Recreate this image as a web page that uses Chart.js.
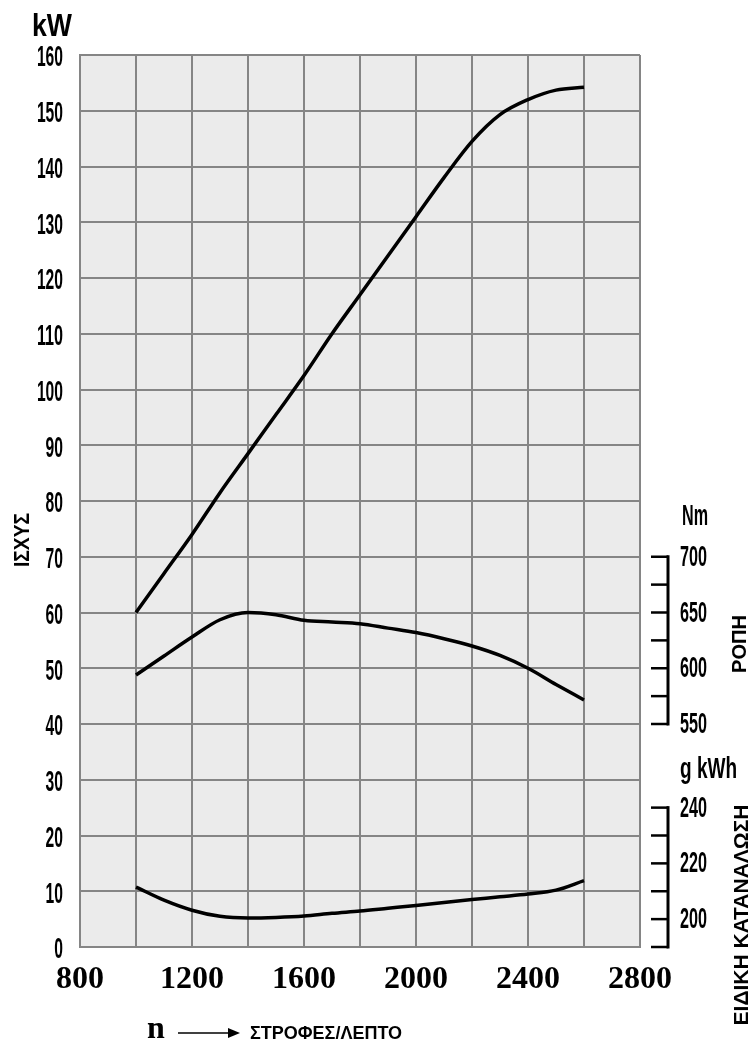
<!DOCTYPE html>
<html lang="el">
<head>
    <meta charset="UTF-8">
    <title>Καμπύλες κινητήρα</title>
    <script src="https://cdn.jsdelivr.net/npm/chart.js"></script>
    <style>
        html, body {
            margin: 0;
            padding: 0;
            background: #fff;
        }
        .grafico {
            position: relative;
            width: 753px;
            height: 1052px;
        }
    </style>
</head>
<body>
    <div class="grafico">
        <canvas id="motorChart"></canvas>
    </div>

    <script>
        // Δεδομένα διαβασμένα από το διάγραμμα
        const strofes = [1000, 1100, 1200, 1300, 1400, 1500, 1600, 1700, 1800, 1900, 2000, 2100, 2200, 2300, 2400, 2500, 2600];
        const isxys = [60, 67, 74, 81.5, 88.5, 95.5, 102.5, 110, 117, 124, 131, 138, 144.5, 149.3, 152, 153.7, 154.2];
        const ropi = [594, 611, 628, 643.5, 650, 648, 643, 641.5, 640, 636, 632, 626.5, 620, 611.5, 600, 585.5, 571.5];
        const katanalosi = [211.5, 206.8, 203.2, 201, 200.4, 200.6, 201.1, 202.1, 202.9, 203.9, 204.9, 206, 207, 208, 209, 210.4, 213.8];

        const strofesEtiketes = [800, 1200, 1600, 2000, 2400, 2800];
        const ropiGrammes = [550, 575, 600, 625, 650, 675, 700];
        const ropiEtiketes = [550, 600, 650, 700];
        const katanalosiGrammes = [190, 200, 210, 220, 230, 240];
        const katanalosiEtiketes = [200, 220, 240];

        const sans = "'Liberation Sans', Arial, sans-serif";
        const gkrizo = '#858585';

        // φόντο περιοχής γραφήματος
        const fontoPlugin = {
            id: 'fonto',
            beforeDraw(chart) {
                const a = chart.chartArea;
                chart.ctx.save();
                chart.ctx.fillStyle = '#ebebeb';
                chart.ctx.fillRect(a.left, a.top, a.right - a.left, a.bottom - a.top);
                chart.ctx.restore();
            }
        };

        // στενά, ψηλά νούμερα όπως στο πρωτότυπο (συμπίεση με maxWidth)
        function stenoKeimeno(ctx, text, x, y, size, perChar) {
            ctx.font = 'bold ' + size + 'px ' + sans;
            ctx.fillText(text, x, y, perChar * text.length);
        }

        function agkyli(ctx, scale, grammes, etiketes, xL) {
            const yTop = scale.getPixelForValue(grammes[grammes.length - 1]);
            const yBot = scale.getPixelForValue(grammes[0]);
            ctx.strokeStyle = '#000';
            ctx.lineWidth = 3;
            ctx.beginPath();
            ctx.moveTo(xL, yTop - 1.5);
            ctx.lineTo(xL, yBot + 1.5);
            ctx.stroke();
            ctx.lineWidth = 2.5;
            grammes.forEach(v => {
                const y = scale.getPixelForValue(v);
                ctx.beginPath();
                ctx.moveTo(xL - 17, y);
                ctx.lineTo(xL, y);
                ctx.stroke();
            });
            ctx.fillStyle = '#000';
            ctx.textAlign = 'left';
            ctx.textBaseline = 'middle';
            etiketes.forEach(v => {
                stenoKeimeno(ctx, String(v), xL + 12, scale.getPixelForValue(v) + 1, 29, 9);
            });
        }

        function keimenoPeristrofi(ctx, text, x, y, font, maxW) {
            ctx.save();
            ctx.translate(x, y);
            ctx.rotate(-Math.PI / 2);
            ctx.font = font;
            ctx.textAlign = 'center';
            ctx.textBaseline = 'middle';
            ctx.fillText(text, 0, 0, maxW);
            ctx.restore();
        }

        // ετικέτες αριστερού άξονα, δεξιοί άξονες, τίτλοι και βέλος στροφών
        const keimenaPlugin = {
            id: 'keimena',
            afterDraw(chart) {
                const ctx = chart.ctx;
                const a = chart.chartArea;
                const yScale = chart.scales.y;
                const xL = a.right + 28;
                ctx.save();
                ctx.fillStyle = '#000';

                ctx.textAlign = 'right';
                ctx.textBaseline = 'middle';
                yScale.ticks.forEach(t => {
                    stenoKeimeno(ctx, String(t.value), a.left - 17, yScale.getPixelForValue(t.value) + 3, 30, 8.7);
                });

                agkyli(ctx, chart.scales.yNm, ropiGrammes, ropiEtiketes, xL);
                agkyli(ctx, chart.scales.yG, katanalosiGrammes, katanalosiEtiketes, xL);

                ctx.textAlign = 'left';
                ctx.font = 'bold 30px ' + sans;
                ctx.fillText('Nm', xL + 14, chart.scales.yNm.getPixelForValue(700) - 40, 26);
                ctx.fillText('g kWh', xL + 12, chart.scales.yG.getPixelForValue(240) - 38, 57);

                ctx.font = 'bold 32px ' + sans;
                ctx.fillText('kW', a.left - 48, a.top - 28, 40);

                keimenoPeristrofi(ctx, 'ΙΣΧΥΣ', 23, 540, 'bold 22px ' + sans, 54);
                keimenoPeristrofi(ctx, 'ΡΟΠΗ', 740, 644, 'bold 21px ' + sans, 58);
                keimenoPeristrofi(ctx, 'ΕΙΔΙΚΗ ΚΑΤΑΝΑΛΩΣΗ', 742, 915, 'bold 21px ' + sans, 260);

                // n ---> ΣΤΡΟΦΕΣ/ΛΕΠΤΟ
                ctx.textAlign = 'center';
                ctx.font = 'bold 32px "Liberation Serif", serif';
                ctx.fillText('n', 156, 1030);
                ctx.strokeStyle = '#000';
                ctx.lineWidth = 1.5;
                ctx.beginPath();
                ctx.moveTo(178, 1033);
                ctx.lineTo(232, 1033);
                ctx.stroke();
                ctx.beginPath();
                ctx.moveTo(240, 1033);
                ctx.lineTo(228, 1028);
                ctx.lineTo(228, 1038);
                ctx.closePath();
                ctx.fill();
                ctx.textAlign = 'left';
                ctx.font = 'bold 18px ' + sans;
                ctx.fillText('ΣΤΡΟΦΕΣ/ΛΕΠΤΟ', 250, 1034, 160);
                ctx.restore();
            }
        };

        const seira = (data, axis) => ({
            data: strofes.map((x, i) => ({ x: x, y: data[i] })),
            yAxisID: axis,
            borderColor: '#000',
            borderWidth: 3.5,
            pointRadius: 0,
            fill: false,
            cubicInterpolationMode: 'monotone'
        });

        const ctxMotor = document.getElementById('motorChart').getContext('2d');
        const motorChart = new Chart(ctxMotor, {
            type: 'line',
            data: {
                datasets: [
                    Object.assign(seira(isxys, 'y'), { label: 'Ισχύς' }),
                    Object.assign(seira(ropi, 'yNm'), { label: 'Ροπή' }),
                    Object.assign(seira(katanalosi, 'yG'), { label: 'Ειδική κατανάλωση' })
                ]
            },
            options: {
                responsive: true,
                maintainAspectRatio: false,
                animation: false,
                layout: {
                    padding: { top: 55, right: 113, left: 0, bottom: 0 }
                },
                plugins: {
                    legend: { display: false },
                    tooltip: { enabled: false }
                },
                scales: {
                    x: {
                        type: 'linear',
                        min: 800,
                        max: 2800,
                        afterFit: s => { s.height = 105; },
                        ticks: {
                            stepSize: 200,
                            autoSkip: false,
                            maxRotation: 0,
                            padding: 14,
                            color: '#000',
                            font: { family: "'Liberation Serif', serif", size: 32, weight: 'bold' },
                            callback: v => strofesEtiketes.includes(v) ? String(v) : ''
                        },
                        grid: { color: gkrizo, lineWidth: 2, drawTicks: false },
                        border: { color: gkrizo, width: 2 }
                    },
                    y: {
                        min: 0,
                        max: 160,
                        afterFit: s => { s.width = 80; },
                        ticks: {
                            stepSize: 10,
                            display: false
                        },
                        grid: { color: gkrizo, lineWidth: 2, drawTicks: false },
                        border: { color: gkrizo, width: 2 }
                    },
                    yNm: {
                        display: false,
                        min: 350,
                        max: 1150
                    },
                    yG: {
                        display: false,
                        min: 190,
                        max: 510
                    }
                }
            },
            plugins: [fontoPlugin, keimenaPlugin]
        });
    </script>
</body>
</html>
